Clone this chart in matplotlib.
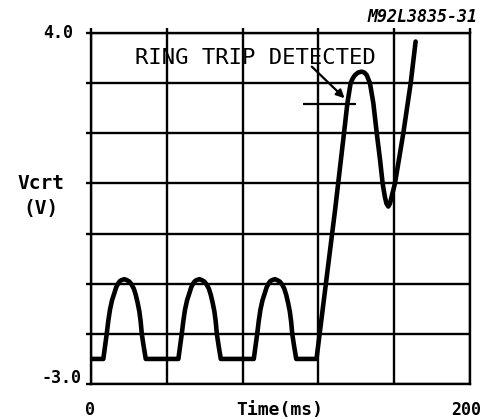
import numpy as np
import matplotlib.pyplot as plt

# waveform (time in ms, Vcrt in V)
hump_v = [-2.5, -2.25, -2.0, -1.75, -1.52, -1.33, -1.19, -1.07, -0.99, -0.95, -0.93, -0.91,
          -0.93, -0.96, -1.02, -1.1, -1.22, -1.38, -1.55, -1.75, -2.0, -2.25, -2.5]
hump1_t = [6.5, 7.4, 8.3, 9.1, 10.0, 11.1, 12.3, 13.3, 14.4, 15.2, 16.0, 17.6,
           19.0, 20.3, 21.5, 22.6, 23.6, 24.6, 25.5, 26.2, 26.8, 27.8, 28.9]
hump2_t = [46.1, 47.0, 47.9, 48.7, 49.6, 50.7, 51.9, 52.9, 54.0, 54.8, 55.6, 57.2,
           58.6, 59.9, 61.1, 62.2, 63.2, 64.2, 65.1, 65.8, 66.4, 67.4, 68.5]
hump3_t = [85.9, 86.8, 87.7, 88.5, 89.4, 90.5, 91.7, 92.7, 93.8, 94.6, 95.4, 97.0,
           98.4, 99.7, 100.9, 102.0, 103.0, 104.0, 104.9, 105.6, 106.2, 107.2, 108.3]
# ring trip: fast ramp, overshoot, dip, second rise
trip_t = [119.0, 128.8, 133.5, 135.3, 137.0, 138.2, 139.3, 140.9, 142.8, 144.3, 145.5, 147.2,
          149.0, 150.8, 152.5, 153.9, 154.5, 155.1, 155.9, 156.9, 157.8, 158.6, 159.4,
          160.4, 164.8, 168.7, 171.3]
trip_v = [-2.5, 0.47, 2.0, 2.6, 3.0, 3.1, 3.16, 3.21, 3.23, 3.21, 3.16, 3.0,
          2.6, 2.0, 1.48, 1.0, 0.86, 0.73, 0.6, 0.54, 0.6, 0.73, 0.85,
          1.0, 2.0, 3.0, 3.83]

t_ms = [0.0] + hump1_t + hump2_t + hump3_t + trip_t
v_crt = [-2.5] + hump_v * 3 + trip_v

x_ticks = [0, 40, 80, 120, 160, 200]
y_ticks = [-3, -2, -1, 0, 1, 2, 3, 4]

# ring trip marker
trip_level = 2.58
trip_span = [112.0, 139.8]
arrow_tail = (116.5, 3.33)
arrow_tip = (133.8, 2.70)

W, H = 493, 419
fig = plt.figure(figsize=(W / 100, H / 100), dpi=100)
ax = fig.add_axes([91 / W, 1 - 384 / H, 379 / W, 351 / H])

ax.plot(t_ms, v_crt, color='black', linewidth=3.3, solid_joinstyle='round',
        solid_capstyle='round', zorder=3)

ax.hlines(trip_level, trip_span[0], trip_span[1], color='black', linewidth=1.6, zorder=3)
ax.annotate('', xy=arrow_tip, xytext=arrow_tail,
            arrowprops=dict(arrowstyle='-|>', color='black', lw=1.6, mutation_scale=12,
                            shrinkA=0, shrinkB=0))
ax.text(86.5, 3.50, 'RING TRIP DETECTED', ha='center', va='center',
        family='DejaVu Sans Mono', fontsize=16, weight='medium')

ax.set_xlim(0, 200)
ax.set_ylim(-3, 4)
ax.set_xticks(x_ticks)
ax.set_yticks(y_ticks)
ax.grid(True, color='black', linewidth=1.7)
ax.set_axisbelow(True)
for s in ax.spines.values():
    s.set_linewidth(1.7)
ax.tick_params(axis='both', which='both', labelleft=False, labelbottom=False,
               bottom=False, left=True, top=True, direction='out', length=3.5, width=1.7)

mono = 'DejaVu Sans Mono'
def ftext(x, y, s, **kw):
    fig.text(x / W, 1 - y / H, s, family=mono, **kw)

ftext(73, 33, '4.0', ha='right', va='center', fontsize=12, weight='bold')
ftext(81, 378, '-3.0', ha='right', va='center', fontsize=12, weight='bold')
ftext(90, 410, '0', ha='center', va='center', fontsize=12, weight='bold')
ftext(466, 410, '200', ha='center', va='center', fontsize=12, weight='bold')
ftext(280, 410, 'Time(ms)', ha='center', va='center', fontsize=13, weight='bold')
ftext(41, 183, 'Vcrt', ha='center', va='center', fontsize=14, weight='bold')
ftext(41, 208, '(V)', ha='center', va='center', fontsize=14, weight='bold')
ftext(477, 17, 'M92L3835-31', ha='right', va='center', fontsize=12,
      weight='bold', style='italic')

fig.savefig('out.png', dpi=100)
